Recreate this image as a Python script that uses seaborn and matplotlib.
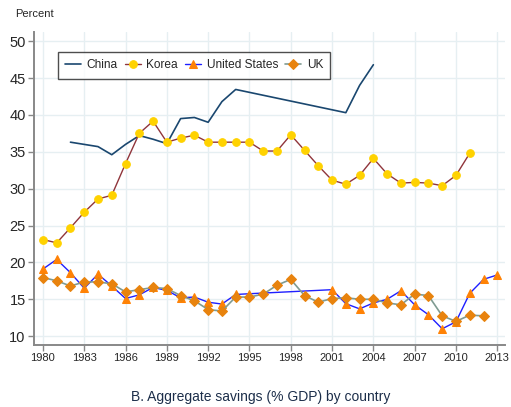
import numpy as np
import pandas as pd
import matplotlib
matplotlib.use("Agg")
import matplotlib.pyplot as plt
import seaborn as sns

# données
china_years = [1982, 1983, 1984, 1985, 1986, 1987, 1988, 1989, 1990, 1991, 1992, 1993, 1994, 2002, 2003, 2004]
china_vals = [36.3, 36.0, 35.7, 34.6, 36.0, 37.2, 36.7, 36.1, 39.5, 39.65, 39.0, 41.8, 43.45, 40.3, 44.0, 46.8]

korea_years = list(range(1980, 2012))
korea_vals = [23.1, 22.65, 24.7, 26.8, 28.6, 29.1, 33.4, 37.5, 39.15, 36.3, 36.85, 37.25,
              36.3, 36.3, 36.3, 36.3, 35.1, 35.1, 37.3, 35.2, 33.1, 31.15, 30.6, 31.8,
              34.1, 32.0, 30.75, 30.85, 30.75, 30.4, 31.8, 34.8]

us_years = list(range(1980, 1996)) + list(range(2001, 2014))
us_vals = [19.1, 20.4, 18.6, 16.5, 18.4, 16.8, 15.1, 15.6, 16.6, 16.2, 15.2, 15.3, 14.6, 14.35, 15.65, 15.75,
           16.3, 14.4, 13.7, 14.5, 15.0, 16.15, 14.25, 12.9, 11.0, 11.95, 15.8, 17.7, 18.3]

uk_years = list(range(1980, 2013))
uk_vals = [17.95, 17.5, 16.8, 17.35, 17.35, 17.1, 16.0, 16.3, 16.6, 16.45, 15.5, 14.8, 13.6, 13.4,
           15.3, 15.3, 15.7, 16.9, 17.7, 15.5, 14.6, 15.1, 15.2, 15.0, 15.0, 14.5, 14.25, 15.7,
           15.5, 12.75, 12.0, 12.85, 12.75]

xticks = list(range(1980, 2014, 3))
yticks = list(range(10, 51, 5))

sns.set_theme(style="white")
plt.rcParams['font.family'] = ['Liberation Sans', 'DejaVu Sans']

fig = plt.figure(figsize=(5.11, 4.07), dpi=100)
ax = fig.add_axes([0.0665, 0.152, 0.922, 0.769])

grid_col = "#e6eff2"
for t in xticks:
    ax.axvline(t, color=grid_col, lw=1.0, zorder=0)
for t in yticks:
    ax.axhline(t, color=grid_col, lw=1.0, zorder=0)

sns.lineplot(x=china_years, y=china_vals, ax=ax, color="#1a476f", lw=1.2, label="China")
sns.lineplot(x=korea_years, y=korea_vals, ax=ax, color="#90353b", lw=1.0, marker="o",
             markersize=5.5, markerfacecolor="#ffd200", markeredgecolor="#ffd200", label="Korea")
sns.lineplot(x=us_years, y=us_vals, ax=ax, color="#1f1fff", lw=1.0, marker="^",
             markersize=6, markerfacecolor="#ff8205", markeredgecolor="#ff8205", label="United States")
sns.lineplot(x=uk_years, y=uk_vals, ax=ax, color="#7f9b92", lw=1.2, marker="D",
             markersize=5, markerfacecolor="#e8830e", markeredgecolor="#e8830e", label="UK")

ax.set_xlim(1979.35, 2013.57)
ax.set_ylim(8.78, 51.22)
ax.set_xticks(xticks)
ax.set_yticks(yticks)
ax.tick_params(axis="x", labelsize=8, length=4, width=1, color="#888888", direction="out", pad=2, bottom=True)
ax.tick_params(axis="y", labelsize=10.5, length=4, width=1, color="#888888", direction="out", pad=2, left=True)
ax.set_xlabel("")
ax.set_ylabel("")
for s in ["top", "right"]:
    ax.spines[s].set_visible(False)
for s in ["left", "bottom"]:
    ax.spines[s].set_color("#888888")
    ax.spines[s].set_linewidth(1.4)

leg = ax.legend(loc="upper left", bbox_to_anchor=(0.051, 0.936), ncol=4, frameon=True,
                fancybox=False, edgecolor="#222222", fontsize=8.6, handlelength=1.35,
                handletextpad=0.45, columnspacing=0.6, borderpad=0.6, borderaxespad=0)
leg.get_frame().set_linewidth(1.0)

fig.text(0.03, 0.965, "Percent", fontsize=8, ha="left", va="center")
fig.text(0.51, 0.025, "B. Aggregate savings (% GDP) by country", fontsize=10,
         color="#1c2e4a", ha="center", va="center")

fig.savefig("out.png", dpi=100)
